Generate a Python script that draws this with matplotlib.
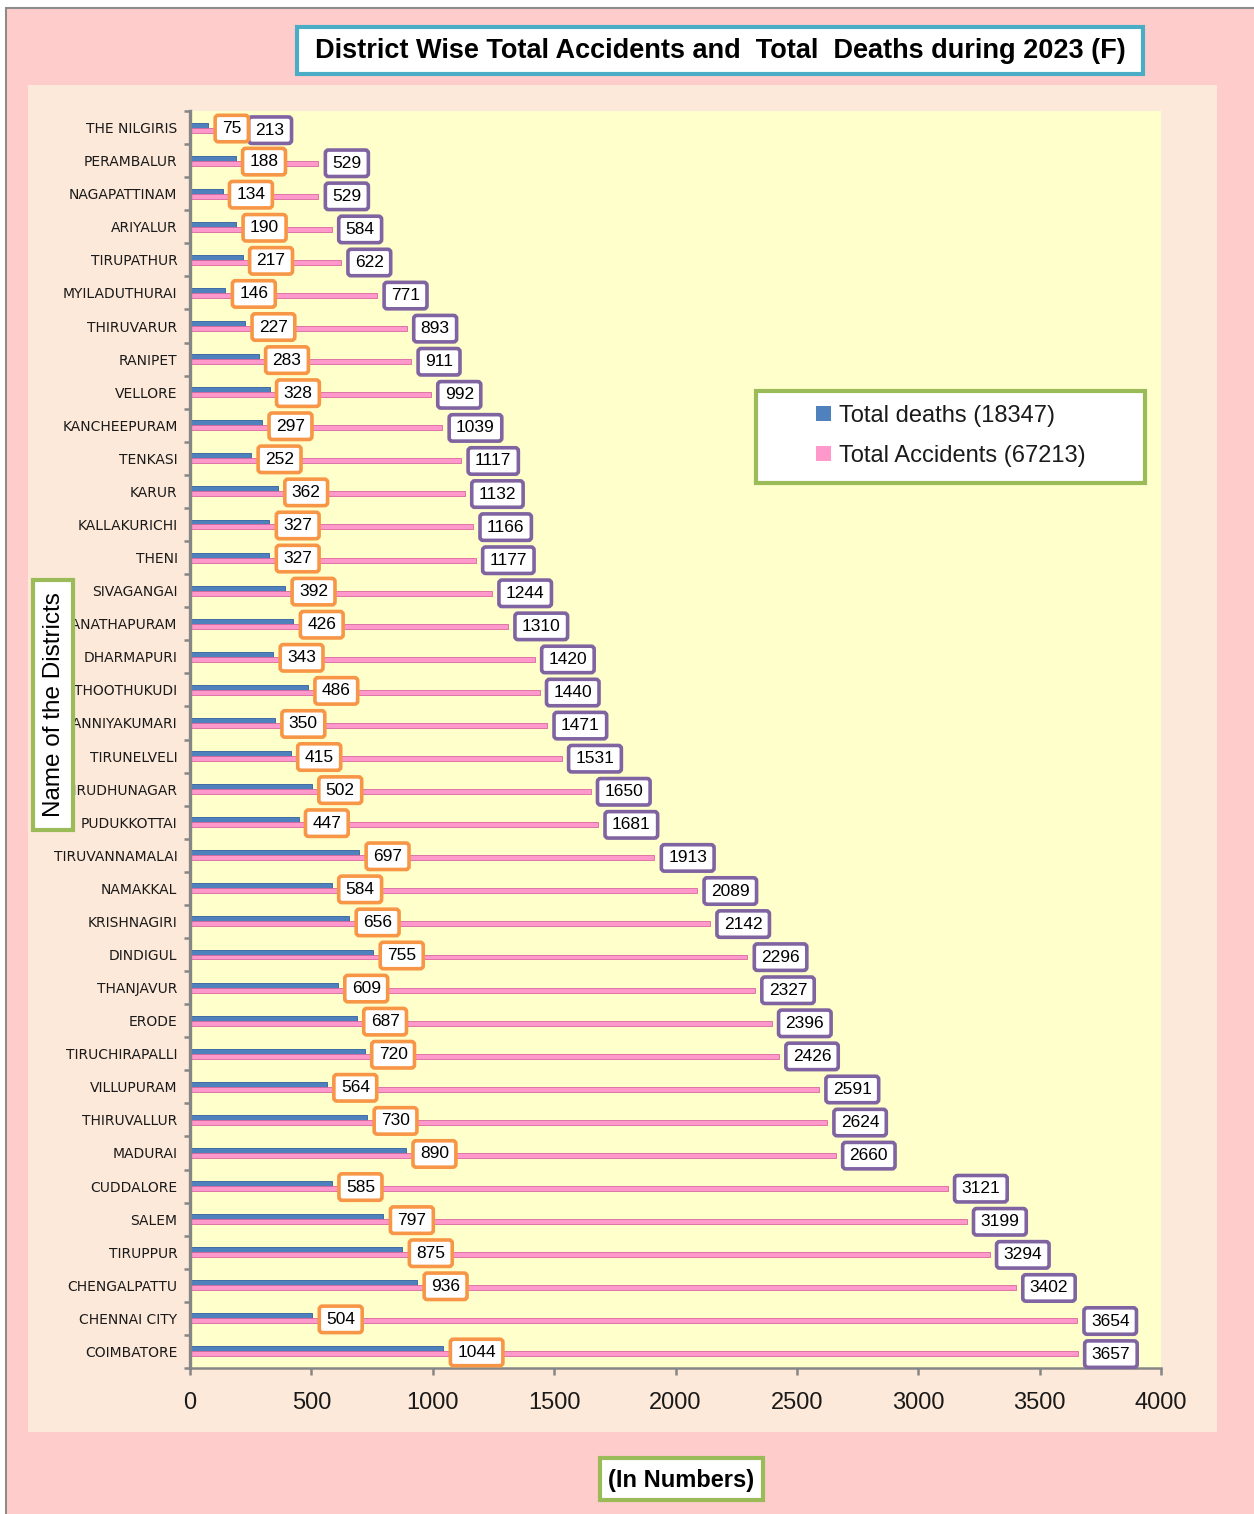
import numpy as np
import matplotlib
matplotlib.use("Agg")
import matplotlib.pyplot as plt
from matplotlib.patches import Rectangle
from matplotlib.patches import BoxStyle
from matplotlib.transforms import Bbox

districts = ["THE NILGIRIS", "PERAMBALUR", "NAGAPATTINAM", "ARIYALUR", "TIRUPATHUR",
             "MYILADUTHURAI", "THIRUVARUR", "RANIPET", "VELLORE", "KANCHEEPURAM",
             "TENKASI", "KARUR", "KALLAKURICHI", "THENI", "SIVAGANGAI",
             "RAMANATHAPURAM", "DHARMAPURI", "THOOTHUKUDI", "KANNIYAKUMARI", "TIRUNELVELI",
             "VIRUDHUNAGAR", "PUDUKKOTTAI", "TIRUVANNAMALAI", "NAMAKKAL", "KRISHNAGIRI",
             "DINDIGUL", "THANJAVUR", "ERODE", "TIRUCHIRAPALLI", "VILLUPURAM",
             "THIRUVALLUR", "MADURAI", "CUDDALORE", "SALEM", "TIRUPPUR",
             "CHENGALPATTU", "CHENNAI CITY", "COIMBATORE"]
deaths = [75, 188, 134, 190, 217, 146, 227, 283, 328, 297, 252, 362, 327, 327, 392,
          426, 343, 486, 350, 415, 502, 447, 697, 584, 656, 755, 609, 687, 720, 564,
          730, 890, 585, 797, 875, 936, 504, 1044]
accidents = [213, 529, 529, 584, 622, 771, 893, 911, 992, 1039, 1117, 1132, 1166, 1177,
             1244, 1310, 1420, 1440, 1471, 1531, 1650, 1681, 1913, 2089, 2142, 2296, 2327,
             2396, 2426, 2591, 2624, 2660, 3121, 3199, 3294, 3402, 3654, 3657]
xticks = [0, 500, 1000, 1500, 2000, 2500, 3000, 3500, 4000]
title = "District Wise Total Accidents and  Total  Deaths during 2023 (F)"
ylabel = "Name of the Districts"
xlabel = "(In Numbers)"
legend_labels = ["Total deaths (18347)", "Total Accidents (67213)"]

W, H = 1254, 1514
fig = plt.figure(figsize=(W / 100, H / 100), dpi=100)
fig.patch.set_facecolor("white")


def fr(x0, y0, x1, y1):
    return (x0 / W, 1 - y1 / H), (x1 - x0) / W, (y1 - y0) / H


def add_rect(x0, y0, x1, y1, fc, ec="none", lw=0, z=-1):
    xy, w, h = fr(x0, y0, x1, y1)
    r = Rectangle(xy, w, h, transform=fig.transFigure, facecolor=fc,
                  edgecolor=ec, linewidth=lw, zorder=z)
    fig.add_artist(r)
    return r


# backgrounds
add_rect(6, 8, W + 20, H + 20, "#FFCCCC", "#8C8C8C", 1.5, z=-3)
add_rect(28, 85, 1217, 1432, "#FDE9D9", z=-2)

BLUE = "#4F81BD"
PINK = "#FF99CC"
ORANGE = "#F79646"
PURPLE = "#8064A2"
GREEN = "#9BBB59"
TEAL = "#4BACC6"
GRAY = "#868686"
SANS = ["Liberation Sans", "DejaVu Sans"]

(axx, axy), axw, axh = fr(190, 111, 1161, 1368)
ax = fig.add_axes([axx, axy, axw, axh])
ax.set_facecolor("#FFFFCC")

y = np.arange(len(districts))
ax.barh(y - 0.075, deaths, height=0.15, color=BLUE, edgecolor="#2F5F9E",
        linewidth=0.6, zorder=2)
ax.barh(y + 0.075, accidents, height=0.15, color=PINK, edgecolor="#D9679F",
        linewidth=0.6, zorder=2)

ax.set_xlim(0, 4000)
ax.set_ylim(len(districts) - 0.5, -0.5)

for s in ["top", "right"]:
    ax.spines[s].set_visible(False)
ax.spines["left"].set_color(GRAY)
ax.spines["left"].set_linewidth(2.4)
ax.spines["bottom"].set_color(GRAY)
ax.spines["bottom"].set_linewidth(1.8)

ax.set_yticks(y)
ax.set_yticklabels(districts, fontsize=10, color="#1a1a1a", family=["DejaVu Sans"])
ax.set_yticks(np.arange(-0.5, len(districts), 1), minor=True)
ax.tick_params(axis="y", which="major", length=0, pad=9)
ax.tick_params(axis="y", which="minor", length=4, width=1.8, color=GRAY)

ax.set_xticks(xticks)
ax.set_xticklabels([str(t) for t in xticks], fontsize=17, color="#1a1a1a", family=SANS)
ax.tick_params(axis="x", which="major", length=5, width=1.8, color=GRAY, pad=12)

# district names hidden behind the y-label box are clipped at its right edge
clip = Bbox.from_extents(75, 0, W, H)
for i, t in enumerate(ax.get_yticklabels()):
    py = H - ax.transData.transform((0, i))[1]
    if 575 < py < 835:
        t.set_clip_box(clip)
        t.set_clip_on(True)

rounder = BoxStyle.Round(pad=0, rounding_size=0.18)


def label_box(x0, y0, width, height, mutation_size):
    px = 0.40 * mutation_size
    py = 0.33 * mutation_size
    return rounder(x0 - px, y0 - py, width + 2 * px, height + 2 * py, mutation_size)


for i, v in enumerate(deaths):
    ax.annotate(str(v), xy=(v, i + 0.03), xytext=(10, 0), textcoords="offset points",
                ha="left", va="center", fontsize=12.5, family=SANS, color="black",
                zorder=6,
                bbox=dict(boxstyle=label_box, fc="white", ec=ORANGE, lw=2.6))
for i, v in enumerate(accidents):
    ax.annotate(str(v), xy=(v, i + 0.08), xytext=(10, 0), textcoords="offset points",
                ha="left", va="center", fontsize=12.5, family=SANS, color="black",
                zorder=5,
                bbox=dict(boxstyle=label_box, fc="white", ec=PURPLE, lw=2.6))

# title
add_rect(297, 27, 1143, 74, "white", TEAL, 3.0, z=4)
fig.text(720 / W, 1 - 51 / H, title, ha="center", va="center", fontsize=19.5,
         fontweight="bold", family=SANS, zorder=5)

# y label
add_rect(33, 580, 73, 830, "white", GREEN, 3.0, z=4)
fig.text(54 / W, 1 - 705 / H, ylabel, ha="center", va="center", rotation=90,
         fontsize=17.5, family=SANS, color="black", zorder=5)

# x label
add_rect(600, 1458, 763, 1500, "white", GREEN, 3.0, z=4)
fig.text(681 / W, 1 - 1480 / H, xlabel, ha="center", va="center", fontsize=17,
         fontweight="bold", family=SANS, color="black", zorder=5)

# legend
add_rect(756, 391, 1145, 483, "white", GREEN, 3.0, z=4)
h1 = Rectangle((0, 0), 1, 1, facecolor=BLUE, edgecolor="none")
h2 = Rectangle((0, 0), 1, 1, facecolor=PINK, edgecolor="none")
leg = fig.legend([h1, h2], legend_labels, loc="center",
                 bbox_to_anchor=(951 / W, 1 - 436 / H), frameon=False,
                 prop={"family": SANS, "size": 17},
                 handlelength=0.6, handleheight=0.6, handletextpad=0.35,
                 labelspacing=0.75, borderpad=0)
leg.set_zorder(6)
for t in leg.get_texts():
    t.set_color("#1a1a1a")

fig.savefig("out.png", dpi=100, facecolor=fig.get_facecolor())
